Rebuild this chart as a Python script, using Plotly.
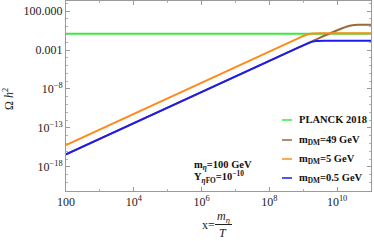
import plotly.graph_objects as go

# ---- data ----
planck_x = [1e2, 1e11]
planck_y = [0.12, 0.12]

blue_x = [1e2, 7.9e8, 1.26e9, 1.78e9, 2.5e9, 4.0e9, 1e11]
blue_y = [4.0e-17, 2.5e-3, 6.3e-3, 1.12e-2, 1.48e-2, 1.58e-2, 1.58e-2]

orange_x = [1e2, 7.9e8, 1.0e9, 1.41e9, 2.0e9, 3.16e9, 5.0e9, 1e11]
orange_y = [6.3e-16, 4.0e-2, 6.3e-2, 1.05e-1, 1.3e-1, 1.4e-1, 1.42e-1, 1.42e-1]

brown_x = [1e2, 1.0e9, 1.58e9, 3.16e9, 7.1e9, 1.26e10, 2.0e10, 2.8e10, 4.0e10, 1e11]
brown_y = [4.0e-17, 4.0e-3, 1.0e-2, 4.0e-2, 1.78e-1, 5.0e-1, 1.05, 1.5, 1.78, 1.78]

x_tickvals = [1e2, 1e4, 1e6, 1e8, 1e10]
x_ticktext = ["100", "10<sup>4</sup>", "10<sup>6</sup>", "10<sup>8</sup>", "10<sup>10</sup>"]
y_tickvals = [1e2, 1e-3, 1e-8, 1e-13, 1e-18]
y_ticktext = ["100.000", "0.001", "10<sup>\u22128</sup>", "10<sup>\u221213</sup>", "10<sup>\u221218</sup>"]

legend_names = ["PLANCK 2018", "m<sub>DM</sub>=49 GeV", "m<sub>DM</sub>=5 GeV", "m<sub>DM</sub>=0.5 GeV"]

GREEN = "#3ee83e"
BROWN = "#9b6838"
ORANGE = "#ff8a1c"
BLUE = "#1c1cf0"
FONT = "Liberation Serif, Times New Roman, DejaVu Serif, serif"

W, H = 374, 241
L, R, T, B = 66, 3, 1, 50
PW, PH = W - L - R, H - T - B


def px(x):
    return (x - L) / PW


def py(y):
    return (H - B - y) / PH


fig = go.Figure()
fig.add_trace(go.Scatter(x=planck_x, y=planck_y, mode="lines", line=dict(color=GREEN, width=2), showlegend=False))
fig.add_trace(go.Scatter(x=brown_x, y=brown_y, mode="lines", line=dict(color=BROWN, width=2, shape="spline", smoothing=0.6), showlegend=False))
fig.add_trace(go.Scatter(x=orange_x, y=orange_y, mode="lines", line=dict(color=ORANGE, width=2, shape="spline", smoothing=0.6), showlegend=False))
fig.add_trace(go.Scatter(x=blue_x, y=blue_y, mode="lines", line=dict(color=BLUE, width=2, shape="spline", smoothing=0.6), showlegend=False))

axis_common = dict(
    showgrid=False, zeroline=False, showline=True, linecolor="#9a9a9a", linewidth=1,
    mirror="allticks", ticks="inside", ticklen=4, tickcolor="#9a9a9a",
    tickfont=dict(family=FONT, size=12, color="#222"), automargin=False,
)

fig.update_xaxes(type="log", range=[2, 11], tickvals=x_tickvals, ticktext=x_ticktext,
                 minor=dict(ticks="inside", ticklen=2, tickcolor="#b0b0b0",
                            tickvals=[1e3, 1e5, 1e7, 1e9, 1e11]),
                 **axis_common)
fig.update_yaxes(type="log", range=[-21.1, 3.3], tickvals=y_tickvals, ticktext=y_ticktext,
                 minor=dict(ticks="inside", ticklen=2, tickcolor="#b0b0b0",
                            tickvals=[1e-20, 1e-19, 1e-17, 1e-16, 1e-15, 1e-14, 1e-12, 1e-11, 1e-10, 1e-9,
                                      1e-7, 1e-6, 1e-5, 1e-4, 1e-2, 1e-1, 1e0, 1e1, 1e3]),
                 **axis_common)

annotations = []
shapes = []
# manual legend
leg_colors = [GREEN, BROWN, ORANGE, BLUE]
leg_y = [120, 140, 159, 178]
for name, col, yy in zip(legend_names, leg_colors, leg_y):
    shapes.append(dict(type="line", xref="paper", yref="paper", x0=px(282), x1=px(292),
                       y0=py(yy), y1=py(yy), line=dict(color=col, width=1.5)))
    annotations.append(dict(xref="paper", yref="paper", x=px(297), y=py(yy),
                            text="<b>" + name + "</b>", showarrow=False, xanchor="left", yanchor="middle",
                            font=dict(family=FONT, size=10.5, color="#111")))

# parameter box
annotations.append(dict(xref="paper", yref="paper", x=px(192), y=py(165),
                        text="<b>m<sub><i>η</i></sub>=100 GeV</b>", showarrow=False, xanchor="left",
                        yanchor="middle", font=dict(family=FONT, size=10.5, color="#111")))
annotations.append(dict(xref="paper", yref="paper", x=px(192), y=py(177),
                        text="<b>Y<sub><i>η</i>FO</sub>=10<sup>\u221210</sup></b>", showarrow=False, xanchor="left",
                        yanchor="middle", font=dict(family=FONT, size=10.5, color="#111")))

# axis titles
annotations.append(dict(xref="paper", yref="paper", x=px(208), y=py(225),
                        text="x=", showarrow=False, xanchor="center", yanchor="middle",
                        font=dict(family=FONT, size=12, color="#222")))
annotations.append(dict(xref="paper", yref="paper", x=px(223), y=py(217),
                        text="<i>m</i><sub><i>η</i></sub>", showarrow=False, xanchor="center", yanchor="middle",
                        font=dict(family=FONT, size=12, color="#222")))
annotations.append(dict(xref="paper", yref="paper", x=px(223), y=py(233),
                        text="<i>T</i>", showarrow=False, xanchor="center", yanchor="middle",
                        font=dict(family=FONT, size=12, color="#222")))
shapes.append(dict(type="line", xref="paper", yref="paper", x0=px(215), x1=px(232),
                   y0=py(224.5), y1=py(224.5), line=dict(color="#222", width=1)))
annotations.append(dict(xref="paper", yref="paper", x=px(8), y=py(99),
                        text="Ω <i>h</i><sup>2</sup>", showarrow=False, xanchor="center", yanchor="middle",
                        textangle=-90, font=dict(family=FONT, size=12, color="#222")))

fig.update_layout(
    width=W, height=H,
    margin=dict(l=L, r=R, t=T, b=B),
    paper_bgcolor="white", plot_bgcolor="white",
    annotations=annotations, shapes=shapes,
    showlegend=False,
)

fig.write_html("out.html", config={"displayModeBar": False},
               post_script="document.body.style.margin='0';document.body.style.padding='0';")
